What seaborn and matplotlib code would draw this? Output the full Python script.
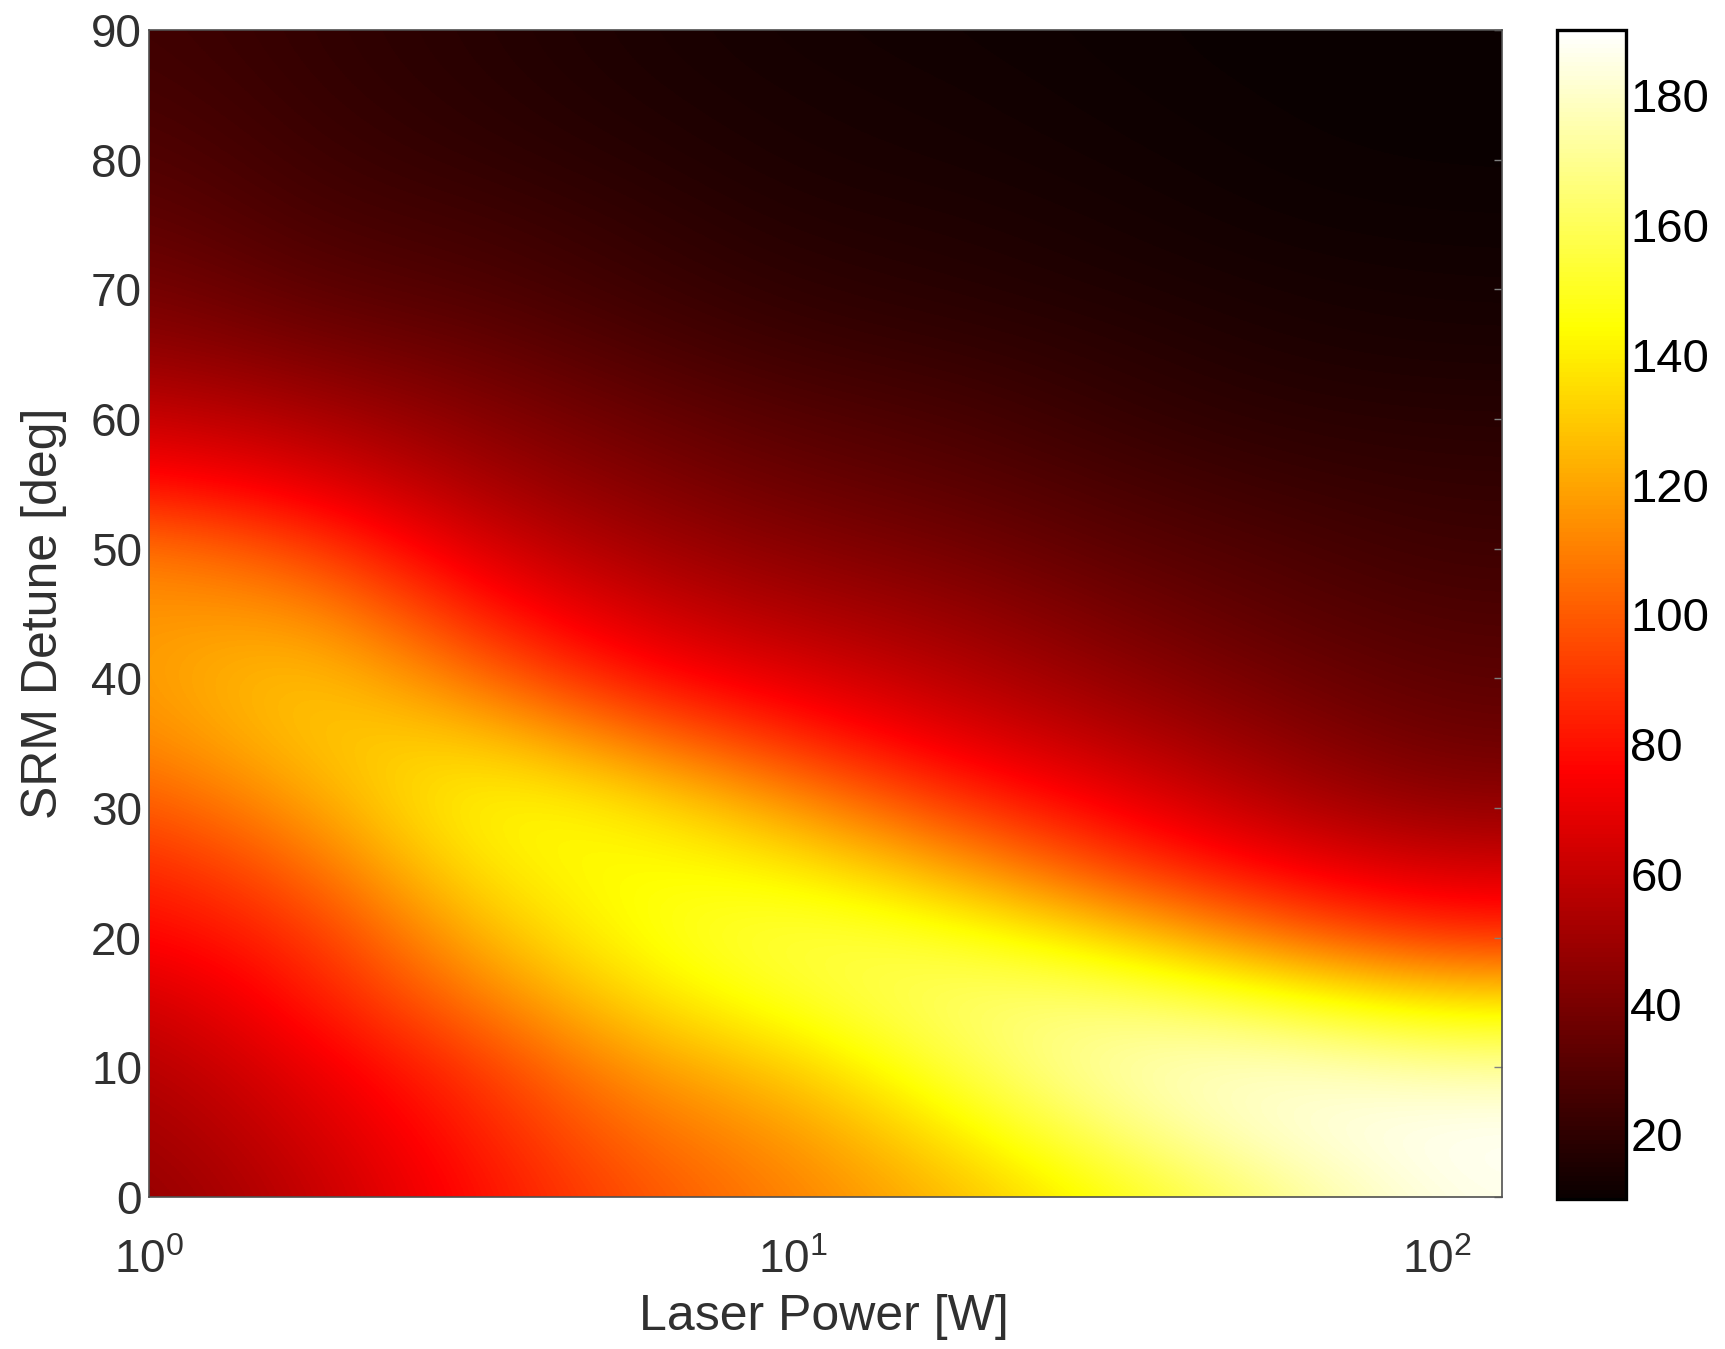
import numpy as np
import matplotlib
matplotlib.use("Agg")
import matplotlib.pyplot as plt
import matplotlib.ticker as mticker
import seaborn as sns

# ---- data --------------------------------------------------------------
# Laser power sample points [W] (evenly spaced in log10) and SRM detune rows [deg]
laser_power = [1.0, 1.78, 3.16, 5.62, 10.0, 17.8, 31.6, 56.2, 100.0]
power_max = 126.0
srm_detune = [0, 5, 10, 15, 20, 25, 30, 35, 40, 45, 50, 55, 60, 65, 70, 75, 80, 85, 90]

# Inspiral range along the detune axis, one list per laser power
range_p1 = [46, 50, 55, 62, 75, 84, 97, 110, 116, 116, 108, 80, 62, 48, 40, 34, 30, 27, 25]
range_p1_8 = [59, 64, 70, 80, 87, 101, 117, 130, 132, 118, 95, 70, 54, 41, 32, 27, 24, 22, 21]
range_p3_2 = [78, 82, 89, 106, 123, 138, 146, 134, 107, 84, 66, 53, 44, 36, 29, 25, 21, 19, 18]
range_p5_6 = [97, 105, 117, 134, 146, 147, 140, 110, 80, 64, 52, 43, 36, 29, 24, 21, 18, 16, 15]
range_p10 = [110, 116, 130, 150, 158, 143, 118, 88, 68, 54, 44, 36, 30, 24, 20, 17, 15, 14, 13]
range_p18 = [125, 139, 156, 165, 152, 122, 92, 70, 57, 48, 39, 32, 27, 22, 18, 16, 14, 13, 12]
range_p32 = [146, 165, 177, 166, 134, 95, 74, 58, 47, 39, 32, 27, 22, 19, 16, 14, 12.5, 11.5, 11]
range_p56 = [168, 183, 181, 153, 107, 76, 57, 46, 38, 32, 28, 23, 19, 16, 14, 12, 11, 10.5, 10]
range_p100 = [186, 189, 173, 137, 89, 65, 47, 37, 32, 28, 24, 21, 18, 15, 13, 11.5, 10.5, 10, 10]

colorbar_ticks = [20, 40, 60, 80, 100, 120, 140, 160, 180]
range_limits = (10, 190)

# ---- styling -------------------------------------------------------------
sns.set_theme(style="white")
plt.rcParams["font.family"] = ["Liberation Sans", "DejaVu Sans"]
plt.rcParams["mathtext.fontset"] = "custom"
plt.rcParams["mathtext.rm"] = "Liberation Sans"
plt.rcParams["mathtext.it"] = "Liberation Sans"
plt.rcParams["mathtext.default"] = "regular"

cmap = sns.color_palette("hot", as_cmap=True)

field = np.column_stack([range_p1, range_p1_8, range_p3_2, range_p5_6, range_p10,
                         range_p18, range_p32, range_p56, range_p100])

rect = [0.0864, 0.1127, 0.7843, 0.8651]
fig = plt.figure(figsize=(17.25, 13.49), dpi=100)

# smooth image layer, laid out in decades of laser power
ax_img = fig.add_axes(rect)
log_p = np.log10(laser_power)
dx = log_p[1] - log_p[0]
dy = srm_detune[1] - srm_detune[0]
im = ax_img.imshow(field, origin="lower", aspect="auto", cmap=cmap,
                   vmin=range_limits[0], vmax=range_limits[1],
                   interpolation="bicubic", interpolation_stage="data",
                   extent=[log_p[0] - dx / 2, log_p[-1] + dx / 2,
                           srm_detune[0] - dy / 2, srm_detune[-1] + dy / 2])
ax_img.set_xlim(log_p[0], np.log10(power_max))
ax_img.set_ylim(srm_detune[0], srm_detune[-1])
ax_img.axis("off")

# log-scaled axes carrying the frame, ticks and labels
ax = fig.add_axes(rect)
ax.set_facecolor("none")
ax.set_xscale("log")
ax.set_xlim(laser_power[0], power_max)
ax.set_ylim(srm_detune[0], srm_detune[-1])

text_color = "#303030"
ax.set_yticks(srm_detune[::2])
ax.set_xticks([1, 10, 100])
ax.xaxis.set_major_formatter(mticker.FuncFormatter(
    lambda v, _: r"$10^{%d}$" % int(round(np.log10(v)))))
ax.xaxis.set_minor_locator(mticker.NullLocator())
ax.tick_params(axis="both", which="major", direction="in", labelsize=33,
               labelcolor=text_color)
ax.tick_params(axis="x", length=0, pad=30)
ax.tick_params(axis="y", length=6, width=1.0, color="#808080", pad=5,
               left=False, right=True)
for sp in ax.spines.values():
    sp.set_visible(True)
    sp.set_color("#505050")
    sp.set_linewidth(1.2)

ax.set_xlabel("Laser Power [W]", fontsize=36, color=text_color)
ax.set_ylabel("SRM Detune [deg]", fontsize=36, color=text_color)
ax.xaxis.set_label_coords(0.499, -0.083)
ax.yaxis.set_label_coords(-0.061, 0.5)

cax = fig.add_axes([0.9026, 0.1112, 0.0400, 0.8666])
cb = fig.colorbar(im, cax=cax)
cb.set_ticks(colorbar_ticks)
cb.outline.set_linewidth(2.4)
cb.outline.set_edgecolor("black")
cax.yaxis.set_ticks_position("both")
cax.tick_params(axis="y", direction="in", length=8, width=2.2, color="black",
                labelsize=34, labelcolor="black", pad=3, left=True, right=True)

fig.savefig("out.png", dpi=100)
